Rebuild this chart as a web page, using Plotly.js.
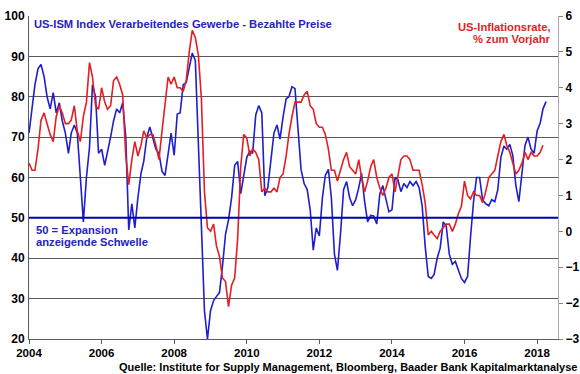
<!DOCTYPE html>
<html>
<head>
<meta charset="utf-8">
<script src="https://cdn.plot.ly/plotly-3.0.1.min.js"></script>
<style>
html,body{margin:0;padding:0;background:#fff;}
#chart{width:580px;height:374px;}
</style>
</head>
<body>
<div id="chart"></div>
<script>
// Monthly series, first month January 2004
const startYear = 2004;

// US-ISM Index Verarbeitendes Gewerbe - Bezahlte Preise (left axis)
const ismPrices = [
  71, 77, 83, 87, 88, 85, 80, 77, 81, 76, 78.5, 74,          // 2004
  71, 66, 71, 73, 71, 60, 49, 60, 67.5, 83, 80, 66,          // 2005
  67, 63, 66, 70, 74, 77, 76, 78.5, 70, 47, 53.5, 47.5,      // 2006
  55, 61, 64, 70, 72.5, 70, 67, 66, 61.5, 60.5, 66, 71,      // 2007
  65.5, 75.7, 76, 83, 83.5, 87.5, 90.8, 89, 70, 48, 27, 20,  // 2008
  27, 29.5, 30.5, 31.5, 38, 46, 49.5, 55, 63, 64, 56, 61,    // 2009
  65, 66.5, 66, 75.5, 77.8, 76, 55.5, 57.5, 65, 71, 73, 69.5,// 2010
  75, 79.5, 80, 82.5, 82, 71, 62, 58.5, 57, 52, 42, 47.5,    // 2011
  45.5, 55, 60.5, 62, 55, 41, 37, 46, 57, 59, 55, 53,        // 2012
  54.5, 57.5, 61, 54, 49, 50.6, 50.5, 48.5, 56, 58, 55, 51.5,// 2013
  52, 60, 59.5, 56.5, 58.5, 57.5, 59, 58, 59, 57.5, 53, 43,  // 2014
  35.5, 35, 36, 40, 42.5, 49, 48, 41, 38.5, 39.2, 37, 35,    // 2015
  34, 35.5, 45, 54, 60, 60, 54.5, 53.5, 53, 54.5, 54, 57,    // 2016
  65, 67.8, 67, 68.2, 65.5, 58, 54, 61.7, 68, 70, 67, 66,    // 2017
  71.5, 73.5, 77, 78.8                                        // 2018
];

// US-Inflationsrate, % zum Vorjahr (right axis)
const cpiYoY = [
  1.9, 1.7, 1.7, 2.3, 3.1, 3.3, 3.0, 2.7, 2.5, 3.2, 3.5, 3.3,
  3.0, 3.0, 3.1, 3.5, 2.8, 2.5, 3.2, 3.6, 4.7, 4.3, 3.5, 3.4,
  4.0, 3.6, 3.4, 3.5, 4.2, 4.3, 4.1, 3.8, 2.1, 1.3, 2.0, 2.5,
  2.1, 2.4, 2.8, 2.6, 2.7, 2.7, 2.4, 2.0, 2.8, 3.5, 4.3, 4.1,
  4.3, 4.0, 4.0, 3.9, 4.2, 5.0, 5.6, 5.4, 4.9, 3.7, 1.1, 0.1,
  0.0, 0.2, -0.4, -0.7, -1.3, -1.4, -2.1, -1.5, -1.3, -0.2, 1.8, 2.7,
  2.6, 2.1, 2.3, 2.2, 2.0, 1.1, 1.2, 1.1, 1.1, 1.2, 1.1, 1.5,
  1.6, 2.1, 2.7, 3.2, 3.6, 3.6, 3.6, 3.8, 3.9, 3.5, 3.4, 3.0,
  2.9, 2.9, 2.7, 2.3, 1.7, 1.7, 1.4, 1.7, 2.0, 2.2, 1.8, 1.7,
  1.6, 2.0, 1.5, 1.1, 1.4, 1.8, 2.0, 1.5, 1.2, 1.0, 1.2, 1.5,
  1.6, 1.1, 1.5, 2.0, 2.1, 2.1, 2.0, 1.7, 1.7, 1.7, 1.3, 0.8,
  -0.1, 0.0, -0.1, -0.2, 0.0, 0.1, 0.2, 0.2, 0.0, 0.2, 0.5, 0.7,
  1.4, 1.0, 0.9, 1.1, 1.0, 1.0, 0.8, 1.1, 1.5, 1.6, 1.7, 2.1,
  2.5, 2.7, 2.4, 2.2, 1.9, 1.6, 1.7, 1.9, 2.2, 2.0, 2.2, 2.1,
  2.1, 2.2, 2.4
];

const thresholdValue = 50;
const leftTicks = [20, 30, 40, 50, 60, 70, 80, 90, 100];
const rightTicks = [-3, -2, -1, 0, 1, 2, 3, 4, 5, 6];
const xTickYears = [2004, 2006, 2008, 2010, 2012, 2014, 2016, 2018];

const titleText = 'US-ISM Index Verarbeitendes Gewerbe - Bezahlte Preise';
const inflLines = ['US-Inflationsrate,', '% zum Vorjahr'];
const thresholdLines = ['50 = Expansion', 'anzeigende Schwelle'];
const sourceText = 'Quelle: Institute for Supply Management, Bloomberg, Baader Bank Kapitalmarktanalyse';

function monthDates(n) {
  const out = [];
  for (let i = 0; i < n; i++) {
    const y = startYear + Math.floor(i / 12);
    const m = (i % 12) + 1;
    out.push(y + '-' + String(m).padStart(2, '0') + '-01');
  }
  return out;
}

const FONT = 'Liberation Sans, Arial, sans-serif';
const BLUE = 'rgb(30,30,205)';
const TXTBLUE = 'rgb(35,35,190)';
const RED = 'rgb(228,30,36)';
const GRID = 'rgb(90,90,90)';

// plot area: top 16px, height 323px -> paper coordinate helper
const PLOT_TOP = 16, PLOT_H = 323;
const py = px => 1 - (px - PLOT_TOP) / PLOT_H;

const traces = [
  {
    x: monthDates(cpiYoY.length), y: cpiYoY, yaxis: 'y2', type: 'scatter', mode: 'lines',
    line: {color: RED, width: 1.6}, hoverinfo: 'skip'
  },
  {
    x: monthDates(ismPrices.length), y: ismPrices, type: 'scatter', mode: 'lines',
    line: {color: BLUE, width: 1.6}, hoverinfo: 'skip'
  }
];

function ann(text, x, yPx, xanchor, color, size) {
  return {text: '<b>' + text + '</b>', xref: 'paper', yref: 'paper', x: x, y: py(yPx),
    xanchor: xanchor, yanchor: 'middle', showarrow: false,
    font: {family: FONT, size: size || 11, color: color}};
}

const layout = {
  width: 580, height: 374,
  margin: {l: 29, r: 22, t: 16, b: 35},
  paper_bgcolor: '#fff', plot_bgcolor: '#fff',
  showlegend: false,
  font: {family: FONT, size: 12, color: '#000'},
  xaxis: {
    type: 'date',
    range: ['2004-01-01', '2018-07-30'],
    tickvals: xTickYears.map(y => y + '-01-01'),
    ticktext: xTickYears.map(String),
    ticks: 'outside', ticklen: 4, tickcolor: GRID,
    ticklabelstandoff: -1,
    showgrid: false, zeroline: false,
    showline: true, linecolor: GRID, linewidth: 1,
    tickfont: {family: FONT, size: 11.5, weight: 'bold', color: '#000'}
  },
  yaxis: {
    range: [20, 100], tickvals: leftTicks,
    showgrid: true, gridcolor: GRID, gridwidth: 1,
    zeroline: false, showline: true, linecolor: GRID, linewidth: 1,
    ticks: '', ticklabelstandoff: 1,
    tickfont: {family: FONT, size: 12, weight: 'bold', color: '#000'}
  },
  yaxis2: {
    range: [-3, 6], tickvals: rightTicks, overlaying: 'y', side: 'right',
    showgrid: false, zeroline: false, showline: true, linecolor: 'rgb(170,170,170)', linewidth: 1,
    ticks: 'outside', ticklen: 4, tickcolor: 'rgb(130,130,130)',
    tickfont: {family: FONT, size: 12, weight: 'bold', color: '#000'}
  },
  shapes: [
    {type: 'line', xref: 'paper', x0: 0, x1: 1, yref: 'y', y0: thresholdValue, y1: thresholdValue,
     line: {color: 'rgb(0,0,170)', width: 2}}
  ],
  annotations: [
    ann(titleText, 0.005, 24, 'left', TXTBLUE, 11.2),
    ann(inflLines[0], 0.99, 27, 'right', RED, 11.2),
    ann(inflLines[1], 0.99, 39.5, 'right', RED, 11.2),
    ann(thresholdLines[0], 0.01, 229.5, 'left', TXTBLUE, 11.2),
    ann(thresholdLines[1], 0.01, 242, 'left', TXTBLUE, 11.2),
    ann(sourceText, 1.04, 366.5, 'right', '#000', 11)
  ]
};

Plotly.newPlot('chart', traces, layout, {displayModeBar: false, staticPlot: true});
</script>
</body>
</html>
